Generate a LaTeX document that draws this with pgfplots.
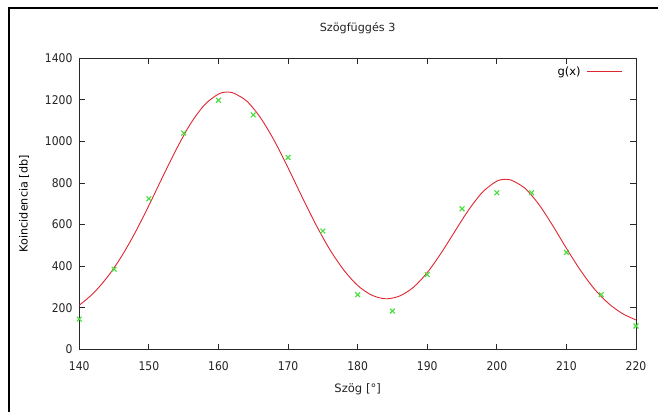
\documentclass[border=0pt]{standalone}
\usepackage{fontspec}
\setmainfont{DejaVu Sans}
\newfontfamily\condfont{DejaVu Sans Condensed}
\usepackage{pgfplots}
\pgfplotsset{compat=1.18}
\definecolor{fitred}{RGB}{222,38,48}
\definecolor{ptgreen}{RGB}{70,222,60}
\definecolor{axgray}{RGB}{40,40,40}
\definecolor{tickgray}{RGB}{35,35,35}
\begin{document}
\begin{tikzpicture}
\path[use as bounding box] (0pt,0pt) rectangle (658pt,412pt);
\draw[line width=2.3pt, black] (9pt,0pt) -- (9pt,403.7pt) -- (658pt,403.7pt);
\begin{axis}[
  at={(79.3pt,62.7pt)}, anchor=south west,
  scale only axis, width=556.7pt, height=291pt,
  xmin=140, xmax=220, ymin=0, ymax=1400,
  xtick={140,150,...,220}, ytick={0,200,...,1400},
  tick align=inside, major tick length=5.7pt,
  axis line style={axgray, line width=0.8pt},
  every tick/.style={axgray, line width=0.8pt},
  /pgf/number format/assume math mode=true,
  /pgf/number format/1000 sep={},
  ticklabel style={font=\condfont\fontsize{12}{12}\selectfont, text=tickgray},
  yticklabel style={anchor=east, inner sep=0pt, xshift=-6.7pt},
  xticklabel style={anchor=base, inner sep=0pt, yshift=-20.7pt},
  title={Szögfüggés 3},
  title style={at={(axis description cs:0.5,1.0708)}, anchor=base, font=\fontsize{11.2}{11.2}\selectfont, text=tickgray},
  xlabel={Szög [°]},
  xlabel style={at={(axis description cs:0.5,-0.150)}, anchor=base, font=\fontsize{11.6}{11.6}\selectfont, text=tickgray},
  ylabel={Koincidencia [db]},
  ylabel style={at={(axis description cs:-0.0993,0.5)}, anchor=center, font=\fontsize{11.2}{11.2}\selectfont, text=black},
  legend style={at={(axis description cs:0.9761,0.954)}, anchor=east, draw=none, fill=none, inner sep=0pt,
    font=\fontsize{11.5}{11.5}\selectfont, text=black, column sep=0pt},
  legend plot pos=right,
  legend image code/.code={\path (0pt,0pt); \draw[#1] (4pt,0pt) -- (39pt,0pt);},
]
\addplot[only marks, mark=x, mark size=3.4pt, ptgreen, line width=1.1pt, forget plot] coordinates {
 (140,145) (145,385) (150,724) (155,1040) (160,1198) (165,1128) (170,923)
 (175,569) (180,263) (185,184) (190,359) (195,676) (200,753) (205,753)
 (210,466) (215,263) (220,112)
};
\addplot[fitred, line width=0.9pt, smooth, no marks] coordinates {
 (140,212) (142,269) (144,346) (146,443) (148,560) (150,692) (152,831)
 (154,966) (156,1086) (158,1176) (160,1228) (161.3,1238) (162,1235)
 (164,1196) (166,1116) (168,1005) (170,873) (172,734) (174,600) (176,480)
 (178,382) (180,307) (182,261) (184,243) (186,256) (188,298) (190,369)
 (192,463) (194,569) (196,673) (198,758) (200,809) (201.3,818) (202,815)
 (204,776) (206,699) (208,597) (210,486) (212,381) (214,291) (216,222)
 (218,173) (220,141)
};
\addlegendentry{g(x)}
\end{axis}
\end{tikzpicture}
\end{document}
